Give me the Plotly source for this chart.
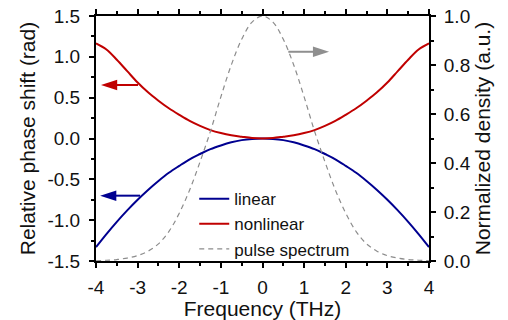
import plotly.graph_objects as go

# Frequency grid (THz), values read at 0.25 THz steps
freq = [-4, -3.75, -3.5, -3.25, -3, -2.75, -2.5, -2.25, -2, -1.75, -1.5, -1.25, -1, -0.75, -0.5, -0.25, 0,
        0.25, 0.5, 0.75, 1, 1.25, 1.5, 1.75, 2, 2.25, 2.5, 2.75, 3, 3.25, 3.5, 3.75, 4]
linear_phase = [-1.33, -1.17, -1.02, -0.88, -0.75, -0.63, -0.52, -0.42, -0.335, -0.255, -0.19, -0.13, -0.085,
                -0.047, -0.02, -0.005, 0.0,
                -0.005, -0.02, -0.047, -0.085, -0.13, -0.19, -0.255, -0.335, -0.42, -0.52, -0.63, -0.75,
                -0.88, -1.02, -1.17, -1.33]
nonlinear_phase = [1.165, 1.09, 0.965, 0.825, 0.685, 0.565, 0.463, 0.37, 0.29, 0.215, 0.154, 0.103, 0.067,
                   0.04, 0.022, 0.006, 0.0,
                   0.006, 0.022, 0.04, 0.067, 0.103, 0.154, 0.215, 0.29, 0.37, 0.463, 0.565, 0.685,
                   0.825, 0.965, 1.09, 1.165]
spectrum = [0.001, 0.003, 0.006, 0.012, 0.022, 0.04, 0.07, 0.12, 0.195, 0.29, 0.405, 0.53, 0.67, 0.80, 0.905,
            0.975, 1.0,
            0.975, 0.905, 0.80, 0.67, 0.53, 0.405, 0.29, 0.195, 0.12, 0.07, 0.04, 0.022, 0.012, 0.006, 0.003, 0.001]

# Tick labels
x_ticks = [-4, -3, -2, -1, 0, 1, 2, 3, 4]
x_ticktext = ["-4", "-3", "-2", "-1", "0", "1", "2", "3", "4"]
y_ticks = [-1.5, -1.0, -0.5, 0.0, 0.5, 1.0, 1.5]
y_ticktext = ["-1.5", "-1.0", "-0.5", "0.0", "0.5", "1.0", "1.5"]
y2_ticks = [0.0, 0.2, 0.4, 0.6, 0.8, 1.0]
y2_ticktext = ["0.0", "0.2", "0.4", "0.6", "0.8", "1.0"]

# Axis-indicator arrows
arrow_tail_x = [-2.99, -2.94, 0.62]
arrow_tip_x = [-3.88, -3.9, 1.6]
arrow_y = [0.655, -0.70, 0.854]
arrow_axis = ["y", "y", "y2"]

FONT = "Liberation Sans, Arial, Helvetica, sans-serif"
BLUE = "#000090"
RED = "#c00000"
GRAY = "#8c8c8c"
arrow_color = [RED, BLUE, "#8f8f8f"]

fig = go.Figure()
fig.add_trace(go.Scatter(x=freq, y=linear_phase, mode="lines", name="linear",
                         line=dict(color=BLUE, width=2, shape="spline")))
fig.add_trace(go.Scatter(x=freq, y=nonlinear_phase, mode="lines", name="nonlinear",
                         line=dict(color=RED, width=2, shape="spline")))
fig.add_trace(go.Scatter(x=freq, y=spectrum, mode="lines", name="pulse spectrum",
                         line=dict(color=GRAY, width=1.2, dash="5px,4px", shape="spline"),
                         yaxis="y2"))

for tx, hx, yy, ax_, col in zip(arrow_tail_x, arrow_tip_x, arrow_y, arrow_axis, arrow_color):
    fig.add_trace(go.Scatter(
        x=[tx, hx], y=[yy, yy], yaxis=ax_, mode="lines+markers", showlegend=False,
        hoverinfo="skip",
        line=dict(color=col, width=2),
        marker=dict(symbol=["circle", "arrow"], size=[0, 17], angleref="previous",
                    color=col, opacity=1, line=dict(width=0)),
    ))

axis_common = dict(showline=True, linecolor="black", linewidth=2, ticks="outside",
                   tickcolor="black", tickwidth=1.5, ticklen=5, showgrid=False, zeroline=False,
                   automargin=False,
                   tickfont=dict(family=FONT, size=19, color="#111"))

fig.update_layout(
    template="none",
    width=508, height=320,
    margin=dict(l=96, r=79, t=16, b=59),
    paper_bgcolor="white", plot_bgcolor="white",
    font=dict(family=FONT, color="#111"),
    showlegend=True,
    legend=dict(x=0.295, y=-0.025, xanchor="left", yanchor="bottom", bgcolor="rgba(0,0,0,0)",
                font=dict(family=FONT, size=17, color="#111"), tracegroupgap=0,
                itemwidth=30, borderwidth=0),
    xaxis=dict(range=[-4, 4], tickvals=x_ticks, ticktext=x_ticktext, mirror="ticks",
               ticklabelstandoff=3,
               title=dict(text="Frequency (THz)", font=dict(family=FONT, size=21), standoff=4),
               minor=dict(dtick=0.5, ticks="outside", ticklen=3, tickcolor="black"),
               **axis_common),
    yaxis=dict(range=[-1.5, 1.5], tickvals=y_ticks, ticktext=y_ticktext,
               ticklabelstandoff=5,
               title=dict(text="Relative phase shift (rad)", font=dict(family=FONT, size=21), standoff=6),
               minor=dict(dtick=0.25, ticks="outside", ticklen=3, tickcolor="black"),
               **axis_common),
    yaxis2=dict(range=[0, 1], tickvals=y2_ticks, ticktext=y2_ticktext, overlaying="y", side="right",
                ticklabelstandoff=4,
                title=dict(text="Normalized density (a.u.)", font=dict(family=FONT, size=21), standoff=6),
                minor=dict(dtick=0.1, ticks="outside", ticklen=3, tickcolor="black"),
                **axis_common),
)

# remove the browser's default 8px page margin so the 508x320 figure fills the window exactly
fig.write_html("out.html", config={"displayModeBar": False},
               post_script="document.body.style.margin='0';")
